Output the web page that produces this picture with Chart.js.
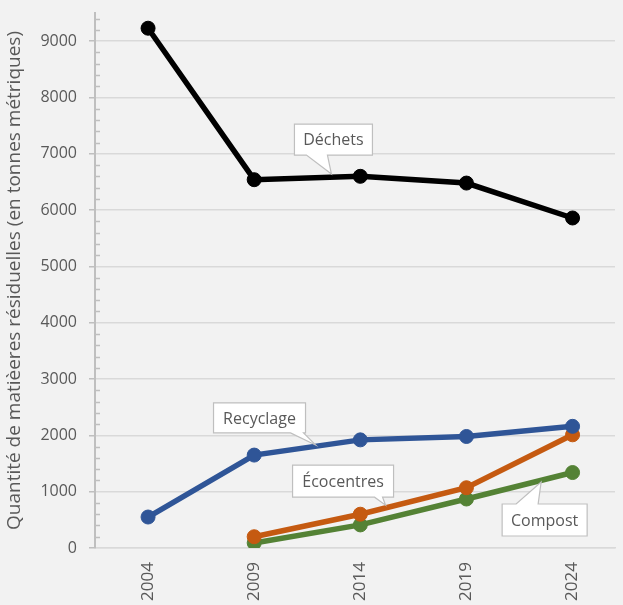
<!DOCTYPE html>
<html>
<head>
<meta charset="utf-8">
<script src="https://cdn.jsdelivr.net/npm/chart.js@4"></script>
<style>
html,body{margin:0;padding:0;background:#F2F2F2;overflow:hidden;}
#wrap{width:623px;height:605px;}
</style>
</head>
<body>
<div id="wrap"><canvas id="c" width="623" height="605"></canvas></div>
<script>
// ---- data ----
const years = [2004, 2009, 2014, 2019, 2024];
const dechets = [9230, 6540, 6600, 6480, 5860];
const recyclage = [550, 1650, 1920, 1980, 2160];
const ecocentres = [null, 200, 600, 1070, 2010];
const compost = [null, 90, 410, 870, 1340];
const yTicks = [0, 1000, 2000, 3000, 4000, 5000, 6000, 7000, 8000, 9000];
const seriesNames = ['Déchets', 'Recyclage', 'Écocentres', 'Compost'];
const yTitle = 'Quantité de matièeres résiduelles (en tonnes métriques)';

const toPts = arr => years.map((y, i) => ({x: y, y: arr[i]}));
const colors = ['#000000', '#2F5597', '#C55A11', '#548235'];
const seriesData = [dechets, recyclage, ecocentres, compost];

const FONT = '"Open Sans", Lato, sans-serif';
const GREY = '#595959';

// callouts: anchor in data coords, box offset in px relative to tip
const callouts = [
  {text: seriesNames[0], ax: 2012.64, ay: 6640, bx: -37, by: -50, w: 78, h: 31, side: 'bottom', p1: -25, p2: -4},
  {text: seriesNames[1], ax: 2011.89, ay: 1830, bx: -102, by: -42, w: 92, h: 30, side: 'bottom', p1: -25, p2: -12},
  {text: seriesNames[2], ax: 2015.19, ay: 760, bx: -93, by: -40, w: 101, h: 32, side: 'bottom', p1: -11, p2: -3},
  {text: seriesNames[3], ax: 2022.52, ay: 1172, bx: -39, by: 22, w: 85, h: 32, side: 'top', p1: -25, p2: -3}
];

const bgPlugin = {
  id: 'bg',
  beforeDraw(chart) {
    const ctx = chart.ctx;
    ctx.save();
    ctx.fillStyle = '#F2F2F2';
    ctx.fillRect(0, 0, chart.width, chart.height);
    ctx.restore();
  }
};

const minorTicks = {
  id: 'minorTicks',
  afterDraw(chart) {
    const ys = chart.scales.y;
    const ctx = chart.ctx;
    const x0 = chart.chartArea.left;
    ctx.save();
    ctx.strokeStyle = '#BFBFBF';
    ctx.lineWidth = 1.5;
    for (let v = 200; v < 9500; v += 200) {
      if (v % 1000 === 0) continue;
      const py = Math.round(ys.getPixelForValue(v)) + 0.5;
      ctx.beginPath();
      ctx.moveTo(x0, py);
      ctx.lineTo(x0 + 5, py);
      ctx.stroke();
    }
    ctx.restore();
  }
};

const calloutPlugin = {
  id: 'callouts',
  afterDatasetsDraw(chart) {
    const xs = chart.scales.x, ys = chart.scales.y;
    const ctx = chart.ctx;
    ctx.save();
    callouts.forEach(c => {
      const tx = xs.getPixelForValue(c.ax);
      const ty = ys.getPixelForValue(c.ay);
      const L = tx + c.bx, T = ty + c.by, R = L + c.w, B = T + c.h;
      const pa = tx + c.p1, pb = tx + c.p2;
      ctx.beginPath();
      if (c.side === 'bottom') {
        ctx.moveTo(L, T); ctx.lineTo(R, T); ctx.lineTo(R, B);
        ctx.lineTo(pb, B); ctx.lineTo(tx, ty); ctx.lineTo(pa, B);
        ctx.lineTo(L, B); ctx.closePath();
      } else {
        ctx.moveTo(L, T); ctx.lineTo(pa, T); ctx.lineTo(tx, ty); ctx.lineTo(pb, T);
        ctx.lineTo(R, T); ctx.lineTo(R, B); ctx.lineTo(L, B); ctx.closePath();
      }
      ctx.fillStyle = '#FFFFFF';
      ctx.fill();
      ctx.strokeStyle = '#BFBFBF';
      ctx.lineWidth = 1.2;
      ctx.stroke();
      ctx.fillStyle = GREY;
      ctx.font = '16px ' + FONT;
      ctx.textAlign = 'center';
      ctx.textBaseline = 'middle';
      ctx.fillText(c.text, (L + R) / 2, (T + B) / 2 + 1);
    });
    ctx.restore();
  }
};

new Chart(document.getElementById('c'), {
  type: 'line',
  data: {
    datasets: seriesNames.map((n, i) => ({
      label: n,
      data: toPts(seriesData[i]),
      borderColor: colors[i],
      backgroundColor: colors[i],
      pointBackgroundColor: colors[i],
      pointBorderColor: colors[i],
      borderWidth: 5.5,
      pointRadius: 7,
      pointBorderWidth: 1,
      tension: 0,
      spanGaps: false
    }))
  },
  options: {
    responsive: false,
    animation: false,
    devicePixelRatio: 1,
    layout: {padding: {top: 13, right: 0, left: 0, bottom: 0}},
    plugins: {legend: {display: false}, tooltip: {enabled: false}},
    scales: {
      x: {
        type: 'linear',
        min: 2001.5,
        max: 2026,
        afterBuildTicks: s => { s.ticks = years.map(v => ({value: v})); },
        afterFit: s => { s.height = 57; s.paddingLeft = 0; s.paddingRight = 0; },
        grid: {display: false, drawTicks: false},
        border: {display: true, color: '#D9D9D9', width: 1.5},
        ticks: {
          autoSkip: false,
          minRotation: 90,
          maxRotation: 90,
          padding: 14,
          color: GREY,
          font: {family: FONT, size: 17},
          callback: v => String(v)
        }
      },
      y: {
        min: 0,
        max: 9500,
        afterBuildTicks: s => { s.ticks = yTicks.map(v => ({value: v})); },
        afterFit: s => { s.width = 95; s.paddingTop = 0; s.paddingBottom = 0; },
        grid: {color: '#D9D9D9', lineWidth: 1.5, tickLength: 6, tickColor: '#BFBFBF'},
        border: {display: true, color: '#BFBFBF', width: 2},
        ticks: {
          padding: 12,
          color: GREY,
          font: {family: FONT, size: 16},
          callback: v => String(v)
        },
        title: {
          display: true,
          text: yTitle,
          color: GREY,
          font: {family: FONT, size: 19},
          padding: {top: 3, bottom: 0}
        }
      }
    }
  },
  plugins: [bgPlugin, minorTicks, calloutPlugin]
});
</script>
</body>
</html>
